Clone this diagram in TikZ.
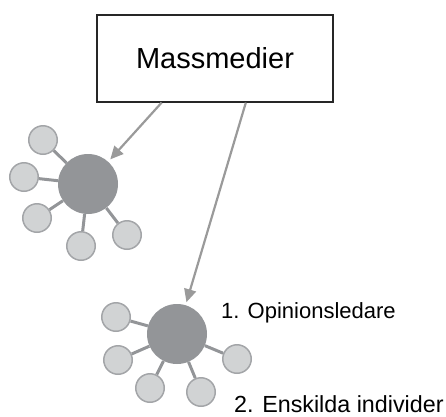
\documentclass[tikz,border=0pt]{standalone}
\usepackage{fontspec}
\setmainfont{Liberation Sans}
\usetikzlibrary{arrows.meta,calc}
\definecolor{hubgray}{HTML}{939598}
\definecolor{satfill}{HTML}{D1D3D4}
\definecolor{satline}{HTML}{A3A5A8}
\definecolor{arrgray}{HTML}{9A9A9A}
\tikzset{
  hub/.style={circle, fill=hubgray, minimum size=60pt, inner sep=0pt},
  sat/.style={circle, fill=satfill, draw=satline, line width=1.5pt, minimum size=28.5pt, inner sep=0pt},
  spoke/.style={draw=hubgray, line width=3pt},
  feed/.style={draw=arrgray, line width=2.2pt, -{Triangle[length=13pt,width=12pt]}, shorten >=3pt},
  lbl/.style={anchor=base west, inner sep=0pt, font=\fontsize{22}{26}\selectfont}
}
\begin{document}
\begin{tikzpicture}[x=1pt,y=-1pt]
\useasboundingbox (0,0) rectangle (446,416);
\node[draw=black!85, line width=1.2pt, minimum width=236pt, minimum height=87pt, font=\fontsize{29}{34}\selectfont] (box) at (215,58.5) {Massmedier};
% left hub
\node[hub] (h1) at (88,184) {};
\node[sat] (a1) at (43,140) {};
\node[sat] (a2) at (24,177) {};
\node[sat] (a3) at (37,218) {};
\node[sat] (a4) at (81,246) {};
\node[sat] (a5) at (127,235) {};
\foreach \s in {a1,a2,a3,a4,a5} \draw[spoke] (h1) -- (\s);
% right hub
\node[hub] (h2) at (177,334) {};
\node[sat] (b1) at (116,317) {};
\node[sat] (b2) at (118,360) {};
\node[sat] (b3) at (150,388) {};
\node[sat] (b4) at (201,392) {};
\node[sat] (b5) at (237,359) {};
\foreach \s in {b1,b2,b3,b4,b5} \draw[spoke] (h2) -- (\s);
% arrows
\coordinate (o1) at ($(box.south west)!0.275!(box.south east)$);
\coordinate (o2) at ($(box.south west)!0.63!(box.south east)$);
\draw[feed] (o1) -- (h1);
\draw[feed] (o2) -- (h2);
% labels
\node[lbl] (l1) at (221,318) {1. Opinionsledare};
\node[lbl, font=\fontsize{23.3}{27}\selectfont] (l2) at (234,412.5) {2. Enskilda individer};
\end{tikzpicture}
\end{document}
